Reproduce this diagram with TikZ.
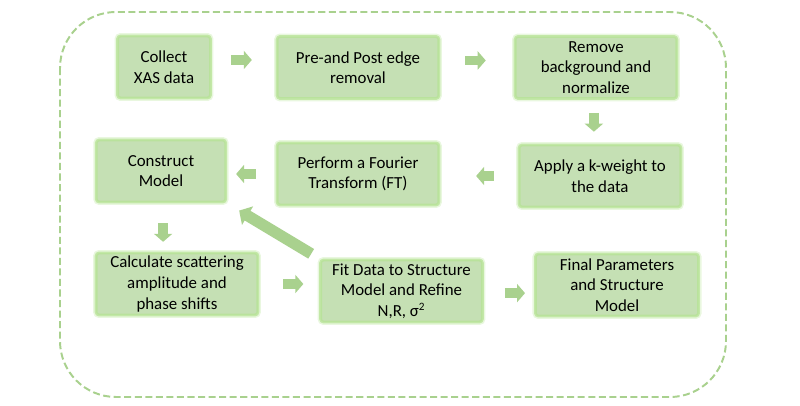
\documentclass[tikz,border=0pt]{standalone}
\usepackage{fontspec}
\setmainfont{Carlito}
\usepackage{xcolor}
\usepackage{tikz}
\usetikzlibrary{arrows.meta}

\definecolor{boxfill}{HTML}{C5E0B4}
\definecolor{glowgreen}{HTML}{B6E394}
\definecolor{arrowgreen}{HTML}{A9D18E}

\begin{document}
\begin{tikzpicture}[x=0.025cm, y=-0.025cm,
  every node/.style={font=\fontsize{12}{14.6}\selectfont, text=black},
  stepbox/.style={fill=boxfill, draw=glowgreen, draw opacity=0.75, line width=2pt,
    preaction={draw=glowgreen, draw opacity=0.3, line width=4.2pt},
    rounded corners=2pt, align=center, inner sep=0pt, minimum height=44pt},
  fatarrow/.style 2 args={draw=arrowgreen, line width=7pt,
    -{Triangle[length=5.7pt,width=12.8pt]}, shorten <=#1, shorten >=#2}]
  \useasboundingbox (0,0) rectangle (800,406);
  % outer frame
  \draw[arrowgreen, line width=1.4pt, dash pattern=on 5pt off 2.5pt, rounded corners=1.4cm]
    (60,12) rectangle (726,397);
  % row 1
  \node[stepbox, minimum width=66pt] (collect) at (164,67) {Collect\\XAS data};
  \node[stepbox, minimum width=115pt] (prepost) at (358,67.5) {Pre-and Post edge\\removal};
  \node[stepbox, minimum width=115pt] (remove) at (596,67.5) {Remove\\background and\\normalize};
  % row 2
  \node[stepbox, minimum width=92pt] (construct) at (161,171) {Construct\\Model};
  \node[stepbox, minimum width=115pt] (fourier) at (358,174) {Perform a Fourier\\Transform (FT)};
  \node[stepbox, minimum width=115pt] (kweight) at (600,176) {Apply a k-weight to\\the data};
  % row 3
  \node[stepbox, minimum width=115pt] (scatter) at (177,284) {Calculate scattering\\amplitude and\\phase shifts};
  \node[stepbox, minimum width=115pt] (fit) at (401.5,291) {Fit Data to Structure\\Model and Refine\\N,R, σ\textsuperscript{2}};
  \node[stepbox, minimum width=116pt] (final) at (617,285) {Final Parameters\\and Structure\\Model};
  % block arrows
  \draw[fatarrow={13.5pt}{17pt}] ([yshift=5pt]collect.east) -- ([yshift=5pt]collect.east -| prepost.west);
  \draw[fatarrow={17.7pt}{19.9pt}] ([yshift=5pt]prepost.east) -- ([yshift=5pt]prepost.east -| remove.west);
  \draw[fatarrow={9.2pt}{8.5pt}] ([xshift=-1.5pt]remove.south) -- ([xshift=-1.5pt]remove.south |- kweight.north);
  \draw[fatarrow={17pt}{25.5pt}] (kweight.west) -- (kweight.west -| fourier.east);
  \draw[fatarrow={14.2pt}{6.4pt}] (fourier.west) -- (fourier.west -| construct.east);
  \draw[fatarrow={14.2pt}{7pt}] ([xshift=1.5pt]construct.south) -- ([xshift=1.5pt]construct.south |- scatter.north);
  \draw[fatarrow={17pt}{11.3pt}] (scatter.east) -- (scatter.east -| fit.west);
  \draw[fatarrow={15pt}{6.4pt}] ([yshift=-1.5pt]fit.east) -- ([yshift=-1.5pt]fit.east -| final.west);
  \draw[draw=arrowgreen, line width=8pt, -{Triangle[length=7pt,width=15pt]},
    shorten <=6.7pt, shorten >=10pt] (fit.north west) -- (construct.south east);
\end{tikzpicture}
\end{document}
